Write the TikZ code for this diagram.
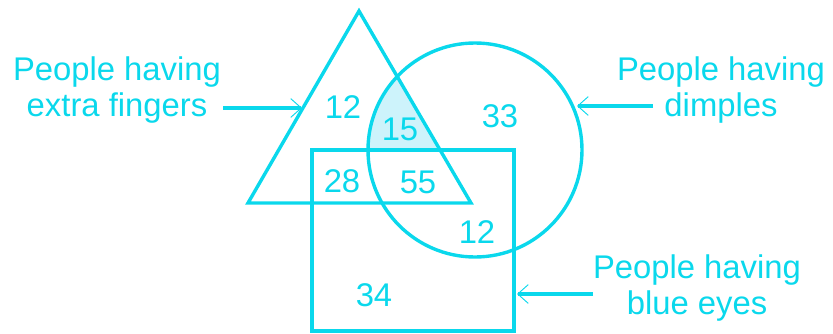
\documentclass[tikz,border=0pt]{standalone}
\usepackage{fontspec}
\setmainfont{Liberation Sans}
\usepackage{tikz}
\usetikzlibrary{arrows.meta}

\definecolor{venncyan}{RGB}{10,216,236}
\definecolor{vennfill}{RGB}{205,243,251}

\begin{document}
\begin{tikzpicture}[x=0.03cm, y=-0.03cm, line width=2.9pt,
  lbl/.style={text=venncyan, font=\fontsize{28}{31}\selectfont, align=center, inner sep=0pt},
  num/.style={text=venncyan, font=\fontsize{28}{31}\selectfont, inner sep=0pt},
  pointer/.style={draw=venncyan, line width=2.6pt, -{Straight Barb[length=9pt, width=16pt, line width=0.8pt]}}]
\useasboundingbox (0,0) rectangle (833,334);
% shaded part: triangle and circle, above the box
\begin{scope}
  \clip (359,11) -- (248,203) -- (471,203) -- cycle;
  \clip (0,0) rectangle (833,150);
  \fill[vennfill] (475,150) circle[radius=107*0.03cm];
\end{scope}
\draw[venncyan, line join=miter] (359,11) -- (248,203) -- (471,203) -- cycle;
\draw[venncyan] (475,150) circle[radius=107*0.03cm];
\draw[venncyan] (312,150) rectangle (514,331);
% points where the pointers meet the shapes
\coordinate (fingers) at (302,108);
\coordinate (dimples) at (577,106);
\coordinate (eyes) at (517,294);
\node[lbl] (lfingers) at (117,90) {People having\\extra fingers};
\node[lbl] (ldimples) at (721,90) {People having\\dimples};
\node[lbl] (leyes) at (697,288) {People having\\blue eyes};
\draw[pointer] (223,108) -- (fingers);
\draw[pointer] (653,106) -- (dimples);
\draw[pointer] (593,294) -- (eyes);
\node[num] (n1) at (343,107) {12};
\node[num] (n2) at (400,129) {15};
\node[num] (n3) at (500,116) {33};
\node[num] (n4) at (342,181) {28};
\node[num] (n5) at (418,182) {55};
\node[num] (n6) at (477,232) {12};
\node[num] (n7) at (374,295) {34};
\end{tikzpicture}
\end{document}
